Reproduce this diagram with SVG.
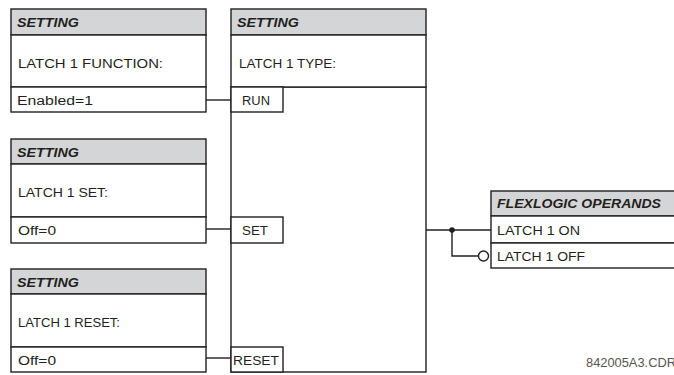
<svg xmlns="http://www.w3.org/2000/svg" width="674" height="375" viewBox="0 0 674 375">
<style>
.b{fill:#fff;stroke:#231f20;stroke-width:1.4}
.h{fill:#d4d5d6;stroke:#231f20;stroke-width:1.4}
.w{fill:none;stroke:#231f20;stroke-width:1.4}
.t{font-family:"Liberation Sans",Arial,sans-serif;font-size:12.5px;fill:#231f20}
.ht{font-family:"Liberation Sans",Arial,sans-serif;font-size:13px;font-weight:bold;font-style:italic;fill:#231f20}
</style>
<rect width="674" height="375" fill="#fff"/>
<g id="latch-type">
<rect class="b" x="231" y="87" width="195" height="285"/>
<rect class="h" x="231" y="9" width="195" height="26"/>
<rect class="b" x="231" y="35" width="195" height="52"/>
<text class="ht" x="237" y="27" textLength="62" lengthAdjust="spacingAndGlyphs">SETTING</text>
<text class="t" x="239" y="68" textLength="97" lengthAdjust="spacingAndGlyphs">LATCH 1 TYPE:</text>
<rect class="b" x="231" y="87" width="52" height="25"/>
<text class="t" x="242" y="105" textLength="28" lengthAdjust="spacingAndGlyphs">RUN</text>
<rect class="b" x="231" y="217" width="52" height="26"/>
<text class="t" x="242" y="235" textLength="26" lengthAdjust="spacingAndGlyphs">SET</text>
<rect class="b" x="231" y="347" width="52" height="25"/>
<text class="t" x="233" y="365" textLength="46" lengthAdjust="spacingAndGlyphs">RESET</text>
</g>
<g id="latch-function">
<rect class="h" x="11" y="9" width="195" height="26"/>
<rect class="b" x="11" y="35" width="195" height="52"/>
<rect class="b" x="11" y="87" width="195" height="25"/>
<text class="ht" x="17" y="27" textLength="62" lengthAdjust="spacingAndGlyphs">SETTING</text>
<text class="t" x="18" y="68" textLength="145" lengthAdjust="spacingAndGlyphs">LATCH 1 FUNCTION:</text>
<text class="t" x="17" y="105" textLength="76" lengthAdjust="spacingAndGlyphs">Enabled=1</text>
</g>
<g id="latch-set">
<rect class="h" x="11" y="139" width="195" height="25"/>
<rect class="b" x="11" y="164" width="195" height="53"/>
<rect class="b" x="11" y="217" width="195" height="26"/>
<text class="ht" x="17" y="157" textLength="62" lengthAdjust="spacingAndGlyphs">SETTING</text>
<text class="t" x="18" y="197" textLength="90" lengthAdjust="spacingAndGlyphs">LATCH 1 SET:</text>
<text class="t" x="18" y="235" textLength="38" lengthAdjust="spacingAndGlyphs">Off=0</text>
</g>
<g id="latch-reset">
<rect class="h" x="11" y="269" width="195" height="25"/>
<rect class="b" x="11" y="294" width="195" height="53"/>
<rect class="b" x="11" y="347" width="195" height="25"/>
<text class="ht" x="17" y="287" textLength="62" lengthAdjust="spacingAndGlyphs">SETTING</text>
<text class="t" x="18" y="327" textLength="102" lengthAdjust="spacingAndGlyphs">LATCH 1 RESET:</text>
<text class="t" x="18" y="365" textLength="38" lengthAdjust="spacingAndGlyphs">Off=0</text>
</g>
<g id="flexlogic-operands">
<rect class="h" x="491" y="191" width="186" height="25"/>
<rect class="b" x="491" y="216" width="186" height="27"/>
<rect class="b" x="491" y="243" width="186" height="25"/>
<text class="ht" x="497" y="208" textLength="164" lengthAdjust="spacingAndGlyphs">FLEXLOGIC OPERANDS</text>
<text class="t" x="497" y="235" textLength="83" lengthAdjust="spacingAndGlyphs">LATCH 1 ON</text>
<text class="t" x="497" y="261" textLength="88" lengthAdjust="spacingAndGlyphs">LATCH 1 OFF</text>
</g>
<g id="connectors">
<line class="w" x1="206" y1="100" x2="231" y2="100"/>
<line class="w" x1="206" y1="229" x2="231" y2="229"/>
<line class="w" x1="206" y1="358" x2="231" y2="358"/>
<line class="w" x1="426" y1="230" x2="491" y2="230"/>
<polyline class="w" points="452,230 452,256 478,256"/>
<circle cx="452" cy="230" r="2.8" fill="#231f20"/>
<circle class="b" cx="483.5" cy="256" r="5"/>
</g>
<text class="t" x="586" y="367" textLength="90" lengthAdjust="spacingAndGlyphs" style="font-size:12px;fill:#555">842005A3.CDR</text>
</svg>
